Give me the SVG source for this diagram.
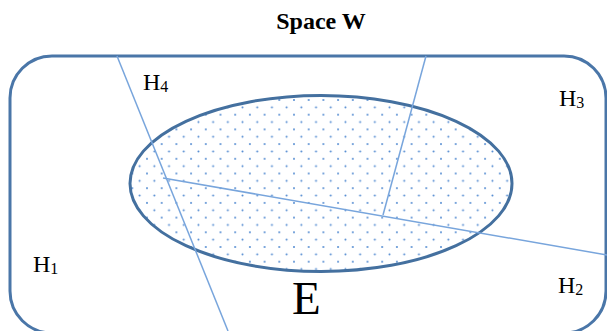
<svg xmlns="http://www.w3.org/2000/svg" width="607" height="331" viewBox="0 0 607 331">
<style>
.lbl{font-family:"Liberation Serif","Times New Roman",serif;fill:#000}
.sub{font-size:16px}
.border{fill:none;stroke:#4a76a8;stroke-width:3}
.cut{stroke:#78a5dc;stroke-width:1.5;fill:none}
</style>
<defs>
<pattern id="dots" x="0" y="11.8" width="14.7" height="14.7" patternUnits="userSpaceOnUse">
<circle cx="0" cy="0" r="1" fill="#4f88d0"/>
<circle cx="14.7" cy="0" r="1" fill="#4f88d0"/>
<circle cx="0" cy="14.7" r="1" fill="#4f88d0"/>
<circle cx="14.7" cy="14.7" r="1" fill="#4f88d0"/>
<circle cx="7.35" cy="7.35" r="1" fill="#4f88d0"/>
</pattern>
</defs>
<rect width="607" height="331" fill="#fff"/>
<text class="lbl" x="321" y="28.5" text-anchor="middle" font-size="24" font-weight="bold">Space W</text>
<g id="space">
<rect class="border" x="10" y="56" width="596" height="277" rx="42" ry="42"/>
</g>
<g id="E">
<ellipse cx="321" cy="183.5" rx="191" ry="88" fill="url(#dots)" stroke="#44709f" stroke-width="3"/>
<text class="lbl" x="292" y="314" font-size="47">E</text>
</g>
<g id="connectors">
<line class="cut" x1="117" y1="56" x2="228" y2="331"/>
<line class="cut" x1="426" y1="56" x2="383" y2="215"/>
<line class="cut" x1="163" y1="178" x2="607" y2="255"/>
</g>
<g id="H1"><text class="lbl" x="33" y="272" font-size="24">H<tspan class="sub" dy="2">1</tspan></text></g>
<g id="H2"><text class="lbl" x="558" y="293" font-size="24">H<tspan class="sub" dy="2">2</tspan></text></g>
<g id="H3"><text class="lbl" x="559" y="105.5" font-size="24">H<tspan class="sub" dy="2">3</tspan></text></g>
<g id="H4"><text class="lbl" x="143" y="90" font-size="24">H<tspan class="sub" dy="2">4</tspan></text></g>
</svg>
